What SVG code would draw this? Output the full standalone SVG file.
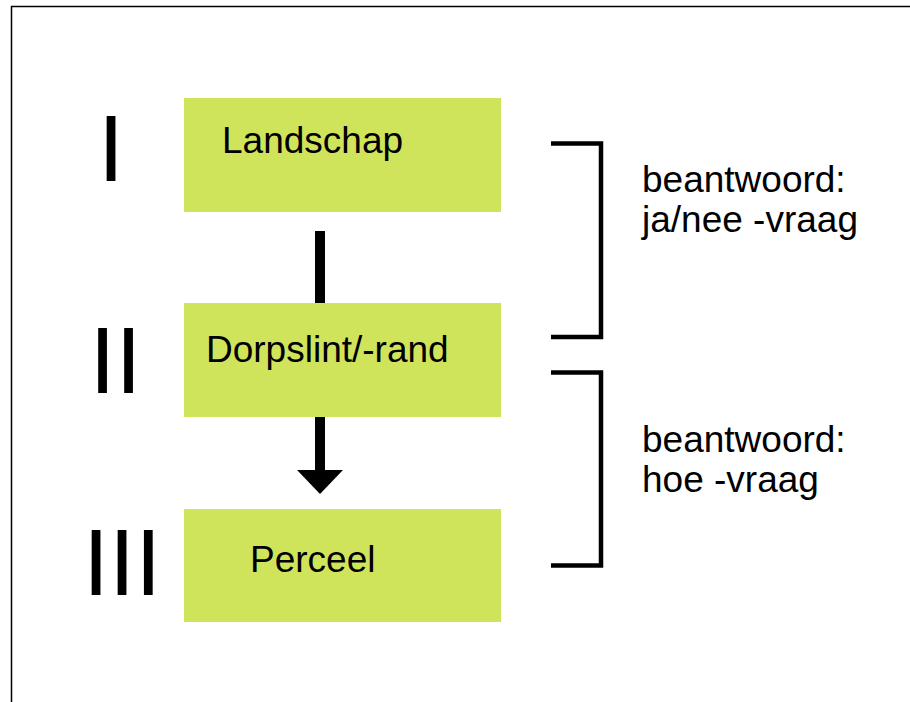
<svg xmlns="http://www.w3.org/2000/svg" width="910" height="702" viewBox="0 0 910 702">
  <style>
    .box { fill: #D0E45B; }
    .lbl { font-family: "Liberation Sans", Arial, sans-serif; font-size: 37px; fill: #000; }
    .num { font-family: "Liberation Sans", Arial, sans-serif; font-size: 94px; fill: #000; }
    .brk { fill: none; stroke: #000; stroke-width: 4.5; }
    .frame { stroke: #000; stroke-width: 1.5; fill: none; }
  </style>
  <rect x="0" y="0" width="910" height="702" fill="#fff"/>
  <path class="frame" d="M11.5,702 V6.5 H910"/>

  <g id="numeral-I"><text class="num" x="98" y="180.7">I</text></g>
  <g id="numeral-II"><text class="num" x="89.5" y="393.3">II</text></g>
  <g id="numeral-III"><text class="num" x="83" y="595">III</text></g>

  <g id="landschap">
    <rect class="box" x="184" y="98" width="317" height="114"/>
    <text class="lbl" x="222" y="152.5">Landschap</text>
  </g>
  <g id="dorpslint">
    <rect class="box" x="184" y="303" width="317" height="114"/>
    <text class="lbl" x="206" y="361.7">Dorpslint/-rand</text>
  </g>
  <g id="perceel">
    <rect class="box" x="184" y="509" width="317" height="113"/>
    <text class="lbl" x="250" y="572">Perceel</text>
  </g>

  <g id="connectors">
    <rect x="315" y="231" width="10" height="72" fill="#000"/>
    <rect x="315" y="417" width="10" height="54" fill="#000"/>
    <polygon points="297,470 343,470 320,494" fill="#000"/>
    <path class="brk" d="M551,143.5 H601 V337 H551"/>
    <path class="brk" d="M551,372.5 H601 V565.5 H551"/>
  </g>

  <g id="note-janee">
    <text class="lbl" x="642" y="192.3">beantwoord:</text>
    <text class="lbl" x="642" y="232.3">ja/nee -vraag</text>
  </g>
  <g id="note-hoe">
    <text class="lbl" x="642" y="452.3">beantwoord:</text>
    <text class="lbl" x="642" y="492.3">hoe -vraag</text>
  </g>
</svg>
